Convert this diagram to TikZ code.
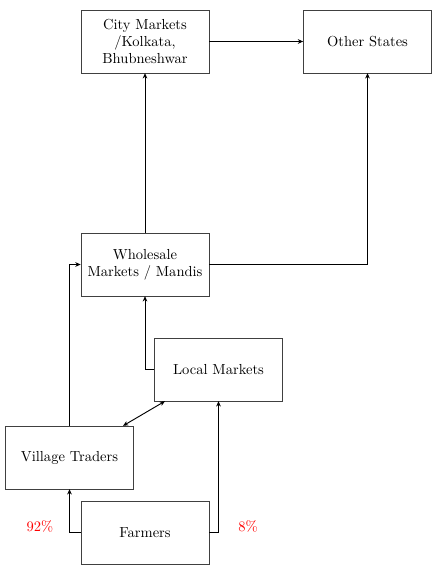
\documentclass[tikz,border=0pt]{standalone}
\usetikzlibrary{arrows.meta}
\begin{document}
\begin{tikzpicture}[x=0.75pt,y=-0.75pt,font=\fontsize{10.9}{12.9}\selectfont,
  box/.style={draw=black!75,line width=0.5pt,minimum width=96pt,minimum height=47pt,align=center,inner sep=2pt},
  conn/.style={line width=0.7pt,-{Stealth[length=4pt,width=3.5pt]}},
  pct/.style={text=red}]
\useasboundingbox (0,0) rectangle (444,586);
\node[box] (city) at (145,41.5) {City Markets\\/Kolkata,\\Bhubneshwar};
\node[box] (other) at (367.5,41.5) {Other States};
\node[box] (whole) at (145,264.5) {Wholesale\\Markets / Mandis};
\node[box] (local) at (218.5,369.5) {Local Markets};
\node[box] (village) at (69.5,457.5) {Village Traders};
\node[box] (farm) at (145,532.5) {Farmers};
\node[pct] (p92) at (40,526) {92\%};
\node[pct] (p8) at (248,526) {8\%};
\draw[conn] (city) -- (other);
\draw[conn] (whole) -- (city);
\draw[conn] (whole.east) -| (other.south);
\draw[conn] (local.west) -| (whole.south);
\draw[line width=0.7pt,{Stealth[length=4pt,width=3.5pt]}-{Stealth[length=4pt,width=3.5pt]}] (village.north east -| 123,0) -- (local.south west -| 165,0);
\draw[conn] (village.north) |- (whole.west);
\draw[conn] (farm.west) -| (village.south);
\draw[conn] (farm.east) -| (local.south);
\end{tikzpicture}
\end{document}
